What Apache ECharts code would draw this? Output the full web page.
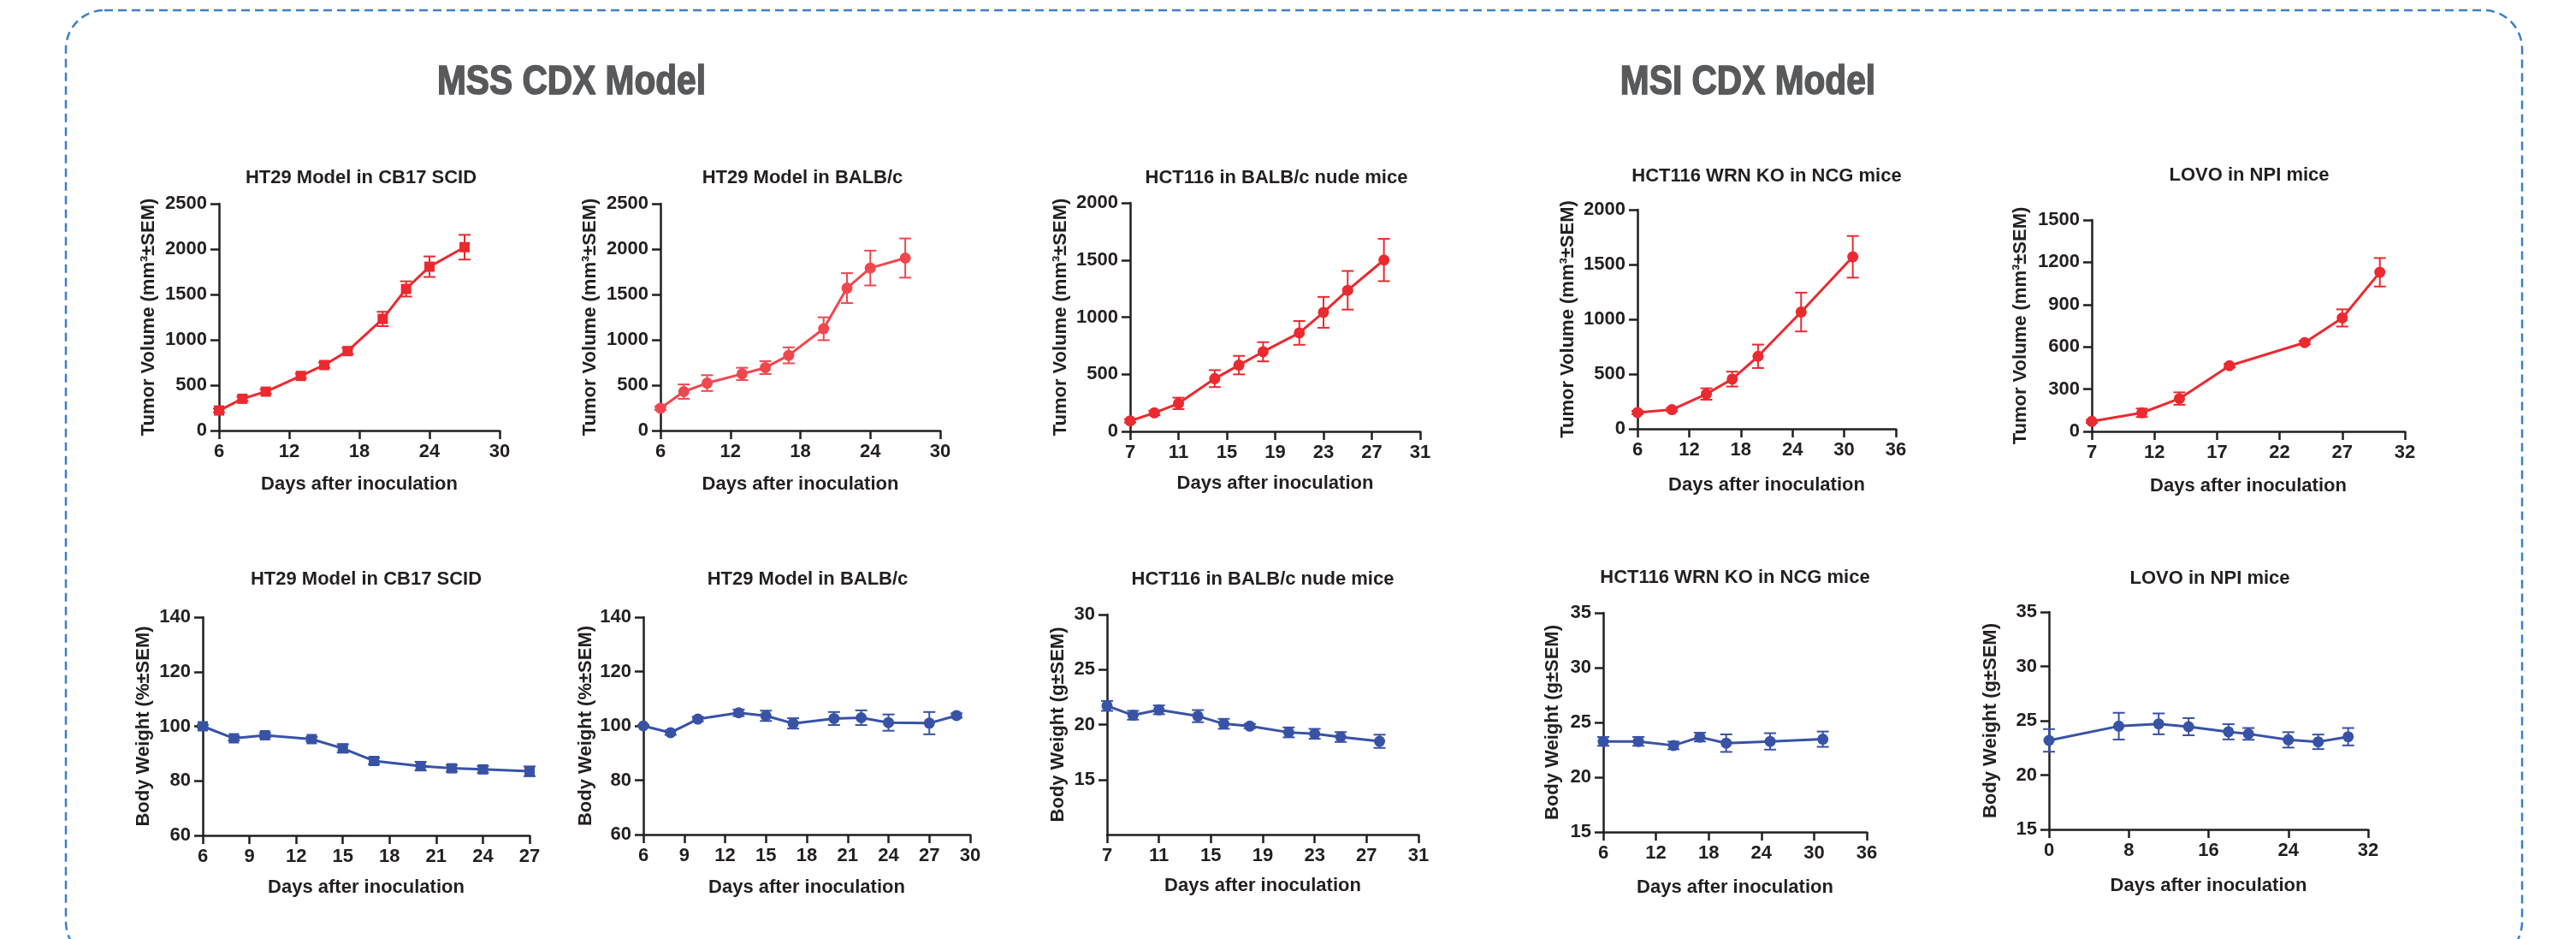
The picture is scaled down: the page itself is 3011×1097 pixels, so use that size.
<!DOCTYPE html>
<html>
<head>
<meta charset="utf-8">
<title>MSS / MSI CDX Models</title>
<script src="https://cdn.jsdelivr.net/npm/echarts@6/dist/echarts.min.js"></script>
<style>
  html, body { margin: 0; padding: 0; background: #fff; }
  #main { width: 3011px; height: 1097px; }
</style>
</head>
<body>
<div id="main"></div>
<script>
// ---- data ----
// HT29 Model in CB17 SCID
const ht29ScidDays = [6, 8, 10, 13, 15, 17, 20, 22, 24, 27];
const ht29ScidVol = [221, 350, 429, 602, 722, 876, 1230, 1561, 1806, 2021];
const ht29ScidVolSem = [20, 25, 25, 25, 30, 35, 79, 84, 113, 136];
const ht29ScidBw = [100, 95.6, 96.7, 95.3, 91.9, 87.3, 85.4, 84.6, 84.2, 83.5];
const ht29ScidBwSem = [0.5, 0.8, 0.8, 0.8, 1.5, 1.2, 1.6, 1.2, 1.2, 1.8];

// HT29 Model in BALB/c
const ht29BalbDays = [6, 8, 10, 13, 15, 17, 20, 22, 24, 27];
const ht29BalbVol = [246, 429, 523, 624, 694, 829, 1122, 1570, 1791, 1901];
const ht29BalbVolSem = [20, 79, 87, 68, 71, 88, 126, 165, 192, 216];
const ht29BalbBwDays = [6, 8, 10, 13, 15, 17, 20, 22, 24, 27, 29];
const ht29BalbBw = [100, 97.5, 102.5, 104.8, 103.7, 100.9, 102.7, 103.0, 101.2, 101.0, 103.8];
const ht29BalbBwSem = [0.3, 0.8, 0.8, 1.2, 1.9, 1.9, 2.4, 2.7, 3.0, 4.1, 0.8];

// HCT116 in BALB/c nude mice
const hct116Days = [7, 9, 11, 14, 16, 18, 21, 23, 25, 28];
const hct116Vol = [92, 162, 245, 462, 580, 697, 862, 1042, 1235, 1500];
const hct116VolSem = [15, 20, 50, 74, 81, 84, 104, 135, 169, 185];
const hct116Bw = [21.7, 20.85, 21.34, 20.77, 20.07, 19.86, 19.29, 19.16, 18.87, 18.48];
const hct116BwSem = [0.45, 0.4, 0.4, 0.55, 0.45, 0.2, 0.45, 0.45, 0.45, 0.6];

// HCT116 WRN KO in NCG mice
const wrnKoDays = [6, 10, 14, 17, 20, 25, 31];
const wrnKoVol = [149, 175, 318, 454, 662, 1066, 1570];
const wrnKoVolSem = [15, 15, 52, 68, 107, 177, 190];
const wrnKoBw = [23.27, 23.27, 22.9, 23.66, 23.11, 23.27, 23.47];
const wrnKoBwSem = [0.4, 0.4, 0.35, 0.4, 0.8, 0.75, 0.7];

// LOVO in NPI mice
const lovoDays = [7, 11, 14, 18, 24, 27, 30];
const lovoVol = [71, 132, 233, 466, 630, 805, 1129];
const lovoVolSem = [10, 30, 44, 12, 12, 61, 101];
const lovoBwDays = [0, 7, 11, 14, 18, 20, 24, 27, 30];
const lovoBw = [23.19, 24.5, 24.71, 24.45, 23.98, 23.79, 23.24, 23.06, 23.53];
const lovoBwSem = [1.04, 1.23, 0.96, 0.79, 0.7, 0.54, 0.71, 0.67, 0.8];

// tick labels
const xTicks6to30 = [6, 12, 18, 24, 30];
const xTicks7to31 = [7, 11, 15, 19, 23, 27, 31];
const xTicks6to36 = [6, 12, 18, 24, 30, 36];
const xTicks7to32 = [7, 12, 17, 22, 27, 32];
const xTicks6to27 = [6, 9, 12, 15, 18, 21, 24, 27];
const xTicks6to30by3 = [6, 9, 12, 15, 18, 21, 24, 27, 30];
const xTicks0to32 = [0, 8, 16, 24, 32];
const yTicks2500 = [0, 500, 1000, 1500, 2000, 2500];
const yTicks2000 = [0, 500, 1000, 1500, 2000];
const yTicks1500 = [0, 300, 600, 900, 1200, 1500];
const yTicksPct = [60, 80, 100, 120, 140];
const yTicks15to30 = [15, 20, 25, 30];
const yTicks15to35 = [15, 20, 25, 30, 35];

const sectionTitles = ['MSS CDX Model', 'MSI CDX Model'];
const xName = 'Days after inoculation';
const volName = 'Tumor Volume (mm³±SEM)';
const pctName = 'Body Weight (%±SEM)';
const gName = 'Body Weight (g±SEM)';

const RED = '#ea2a2f';
const RED2 = '#f0474f';
const BLUE = '#3852a6';
const INK = '#231f20';
const FONT = '"Liberation Sans", Arial, Helvetica, sans-serif';

// panels: data refs + layout
const panels = [
  { title: 'HT29 Model in CB17 SCID', days: ht29ScidDays, mean: ht29ScidVol, sem: ht29ScidVolSem,
    xTicks: xTicks6to30, yTicks: yTicks2500, yMin: 0, yName: volName, color: RED, symbol: 'rect',
    box: [256, 238, 328, 265], titlePos: [422, 208], yGap: 71, xGap: 52 },
  { title: 'HT29 Model in BALB/c', days: ht29BalbDays, mean: ht29BalbVol, sem: ht29BalbVolSem,
    xTicks: xTicks6to30, yTicks: yTicks2500, yMin: 0, yName: volName, color: RED2, symbol: 'circle',
    box: [772, 238, 327, 265], titlePos: [938, 208], yGap: 71, xGap: 52 },
  { title: 'HCT116 in BALB/c nude mice', days: hct116Days, mean: hct116Vol, sem: hct116VolSem,
    xTicks: xTicks7to31, yTicks: yTicks2000, yMin: 0, yName: volName, color: RED, symbol: 'circle',
    box: [1321, 237, 339, 267], titlePos: [1492, 208], yGap: 70, xGap: 50 },
  { title: 'HCT116 WRN KO in NCG mice', days: wrnKoDays, mean: wrnKoVol, sem: wrnKoVolSem,
    xTicks: xTicks6to36, yTicks: yTicks2000, yMin: 0, yName: volName, color: RED, symbol: 'circle',
    box: [1914, 245, 302, 256], titlePos: [2065, 206], yGap: 70, xGap: 55 },
  { title: 'LOVO in NPI mice', days: lovoDays, mean: lovoVol, sem: lovoVolSem,
    xTicks: xTicks7to32, yTicks: yTicks1500, yMin: 0, yName: volName, color: RED, symbol: 'circle',
    box: [2445, 257, 366, 247], titlePos: [2629, 205], yGap: 72, xGap: 53 },
  { title: 'HT29 Model in CB17 SCID', days: ht29ScidDays, mean: ht29ScidBw, sem: ht29ScidBwSem,
    xTicks: xTicks6to27, yTicks: yTicksPct, yMin: 60, yName: pctName, color: BLUE, symbol: 'rect',
    box: [237, 721, 382, 255], titlePos: [428, 677], yGap: 58, xGap: 50 },
  { title: 'HT29 Model in BALB/c', days: ht29BalbBwDays, mean: ht29BalbBw, sem: ht29BalbBwSem,
    xTicks: xTicks6to30by3, yTicks: yTicksPct, yMin: 60, yName: pctName, color: BLUE, symbol: 'circle',
    box: [752, 721, 382, 254], titlePos: [944, 677], yGap: 56, xGap: 51 },
  { title: 'HCT116 in BALB/c nude mice', days: hct116Days, mean: hct116Bw, sem: hct116BwSem,
    xTicks: xTicks7to31, yTicks: yTicks15to30, yMin: 10, yName: gName, color: BLUE, symbol: 'circle',
    box: [1294, 718, 364, 257], titlePos: [1476, 677], yGap: 46, xGap: 49 },
  { title: 'HCT116 WRN KO in NCG mice', days: wrnKoDays, mean: wrnKoBw, sem: wrnKoBwSem,
    xTicks: xTicks6to36, yTicks: yTicks15to35, yMin: 15, yName: gName, color: BLUE, symbol: 'circle',
    box: [1874, 716, 308, 256], titlePos: [2028, 675], yGap: 48, xGap: 54 },
  { title: 'LOVO in NPI mice', days: lovoBwDays, mean: lovoBw, sem: lovoBwSem,
    xTicks: xTicks0to32, yTicks: yTicks15to35, yMin: 15, yName: gName, color: BLUE, symbol: 'circle',
    box: [2395, 715, 373, 254], titlePos: [2583, 676], yGap: 57, xGap: 55 }
];

function errorBars(color) {
  return function (params, api) {
    const x = api.value(0);
    const top = api.coord([x, api.value(2)]);
    const bot = api.coord([x, api.value(1)]);
    const cap = 7;
    const style = { stroke: color, lineWidth: 2 };
    return {
      type: 'group',
      children: [
        { type: 'line', shape: { x1: top[0], y1: top[1], x2: bot[0], y2: bot[1] }, style: style },
        { type: 'line', shape: { x1: top[0] - cap, y1: top[1], x2: top[0] + cap, y2: top[1] }, style: style },
        { type: 'line', shape: { x1: bot[0] - cap, y1: bot[1], x2: bot[0] + cap, y2: bot[1] }, style: style }
      ]
    };
  };
}

const textBase = { color: INK, fontFamily: FONT, fontWeight: 'bold', fontSize: 22 };
const axisLine = { show: true, lineStyle: { color: INK, width: 2.5 } };
const plain = function (v) { return String(v); };

// headings are a narrow heavy face: squeeze Liberation Sans Bold and thicken it a little
function heading(text, x) {
  return {
    type: 'text', x: x, y: 96, scaleX: 0.83,
    style: {
      text: text, fill: '#58595b', stroke: '#58595b', lineWidth: 1.6,
      fontFamily: FONT, fontWeight: 'bold', fontSize: 49,
      align: 'center', verticalAlign: 'middle'
    }
  };
}

let option = {
  animation: false,
  backgroundColor: '#fff',
  grid: [],
  xAxis: [],
  yAxis: [],
  series: [],
  graphic: [
    { type: 'rect', shape: { x: 77, y: 12, width: 2871, height: 1110, r: 45 },
      style: { fill: 'none', stroke: '#3d7fc6', lineWidth: 2.5, lineDash: [10, 6] } },
    heading(sectionTitles[0], 668),
    heading(sectionTitles[1], 2043)
  ]
};

panels.forEach(function (p, i) {
  option.grid.push({ left: p.box[0], top: p.box[1], width: p.box[2], height: p.box[3], containLabel: false });
  option.graphic.push({
    type: 'text', x: p.titlePos[0], y: p.titlePos[1],
    style: { text: p.title, fill: INK, fontFamily: FONT, fontWeight: 'bold', fontSize: 22, align: 'center', verticalAlign: 'middle' }
  });
  option.xAxis.push({
    type: 'value', gridIndex: i,
    min: p.xTicks[0], max: p.xTicks[p.xTicks.length - 1],
    name: xName, nameLocation: 'middle', nameGap: p.xGap, nameTextStyle: textBase,
    axisLine: axisLine,
    axisTick: { show: true, length: 10, lineStyle: { color: INK, width: 2.5 }, customValues: p.xTicks },
    axisLabel: Object.assign({ margin: 14, customValues: p.xTicks, formatter: plain }, textBase),
    splitLine: { show: false }
  });
  option.yAxis.push({
    type: 'value', gridIndex: i,
    min: p.yMin, max: p.yTicks[p.yTicks.length - 1],
    name: p.yName, nameLocation: 'middle', nameRotate: 90, nameGap: p.yGap, nameTextStyle: textBase,
    axisLine: axisLine,
    axisTick: { show: true, length: 10, lineStyle: { color: INK, width: 2.5 }, customValues: p.yTicks },
    axisLabel: Object.assign({ margin: 14, customValues: p.yTicks, formatter: plain }, textBase),
    splitLine: { show: false }
  });
  option.series.push({
    type: 'custom', xAxisIndex: i, yAxisIndex: i,
    encode: { x: 0, y: [1, 2] },
    data: p.days.map(function (d, k) { return [d, p.mean[k] - p.sem[k], p.mean[k] + p.sem[k]]; }),
    renderItem: errorBars(p.color),
    z: 2, silent: true
  });
  option.series.push({
    type: 'line', xAxisIndex: i, yAxisIndex: i,
    data: p.days.map(function (d, k) { return [d, p.mean[k]]; }),
    symbol: p.symbol, symbolSize: p.symbol === 'rect' ? 12 : 13,
    lineStyle: { color: p.color, width: 3 },
    itemStyle: { color: p.color },
    z: 3
  });
});

let myChart = echarts.init(document.getElementById('main'));
myChart.setOption(option);
</script>
</body>
</html>
